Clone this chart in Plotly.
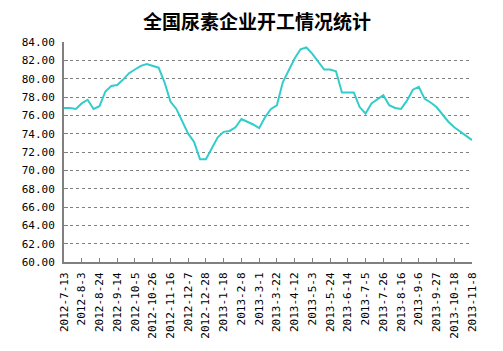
import plotly.graph_objects as go

title_text = "全国尿素企业开工情况统计"

dates = [
    "2012-7-13", "2012-7-20", "2012-7-27", "2012-8-3", "2012-8-10", "2012-8-17",
    "2012-8-24", "2012-8-31", "2012-9-7", "2012-9-14", "2012-9-21", "2012-9-28",
    "2012-10-5", "2012-10-12", "2012-10-19", "2012-10-26", "2012-11-2", "2012-11-9",
    "2012-11-16", "2012-11-23", "2012-11-30", "2012-12-7", "2012-12-14", "2012-12-21",
    "2012-12-28", "2013-1-4", "2013-1-11", "2013-1-18", "2013-1-25", "2013-2-1",
    "2013-2-8", "2013-2-15", "2013-2-22", "2013-3-1", "2013-3-8", "2013-3-15",
    "2013-3-22", "2013-3-29", "2013-4-5", "2013-4-12", "2013-4-19", "2013-4-26",
    "2013-5-3", "2013-5-10", "2013-5-17", "2013-5-24", "2013-5-31", "2013-6-7",
    "2013-6-14", "2013-6-21", "2013-6-28", "2013-7-5", "2013-7-12", "2013-7-19",
    "2013-7-26", "2013-8-2", "2013-8-9", "2013-8-16", "2013-8-23", "2013-8-30",
    "2013-9-6", "2013-9-13", "2013-9-20", "2013-9-27", "2013-10-4", "2013-10-11",
    "2013-10-18", "2013-10-25", "2013-11-1", "2013-11-8",
]

rate = [
    76.8, 76.8, 76.7, 77.3, 77.7, 76.7, 77.0, 78.6, 79.2, 79.3,
    79.9, 80.6, 81.0, 81.4, 81.6, 81.4, 81.2, 79.6, 77.5, 76.7,
    75.3, 74.0, 73.1, 71.2, 71.2, 72.4, 73.6, 74.2, 74.3, 74.7,
    75.6, 75.3, 75.0, 74.6, 75.8, 76.7, 77.1, 79.6, 80.9, 82.2,
    83.2, 83.4, 82.7, 81.9, 81.0, 81.0, 80.8, 78.5, 78.5, 78.5,
    76.9, 76.2, 77.3, 77.8, 78.2, 77.1, 76.8, 76.7, 77.6, 78.8,
    79.1, 77.8, 77.4, 76.9, 76.1, 75.3, 74.7, 74.2, 73.8, 73.3,
]

tick_labels = dates[::3]
y_ticks = [60, 62, 64, 66, 68, 70, 72, 74, 76, 78, 80, 82, 84]

fig = go.Figure()
fig.add_trace(go.Scatter(
    x=dates, y=rate, mode="lines",
    line=dict(color="#33CCCC", width=2),
    hoverinfo="skip", showlegend=False,
))

tick_font = dict(family="DejaVu Sans Mono, monospace", size=11, color="black")

fig.update_layout(
    width=503, height=351,
    margin=dict(l=64, r=31, t=42, b=87),
    paper_bgcolor="white", plot_bgcolor="white",
    title=dict(
        text="<b>" + title_text + "</b>",
        font=dict(family="Noto Sans CJK SC", size=19, color="black"),
        x=0.511, xref="container", xanchor="center",
        y=1 - 22 / 351, yref="container", yanchor="middle",
    ),
    xaxis=dict(
        type="category",
        range=[0, len(dates) - 1],
        tickmode="array", tickvals=tick_labels, ticktext=tick_labels,
        tickangle=-90,
        ticks="inside", ticklen=4, tickcolor="#808080", tickwidth=1,
        ticklabelstandoff=4,
        showline=True, linecolor="#808080", linewidth=2,
        showgrid=False, zeroline=False,
        tickfont=tick_font,
    ),
    yaxis=dict(
        range=[60, 84],
        tickmode="array", tickvals=y_ticks,
        tickformat=".2f", ticksuffix="%",
        ticks="inside", ticklen=4, tickcolor="#808080", tickwidth=1,
        ticklabelstandoff=5,
        showline=True, linecolor="#808080", linewidth=2,
        showgrid=True, gridcolor="#808080", gridwidth=1, griddash="3px,3px",
        zeroline=False,
        tickfont=tick_font,
    ),
)

fig.write_html("out.html")
